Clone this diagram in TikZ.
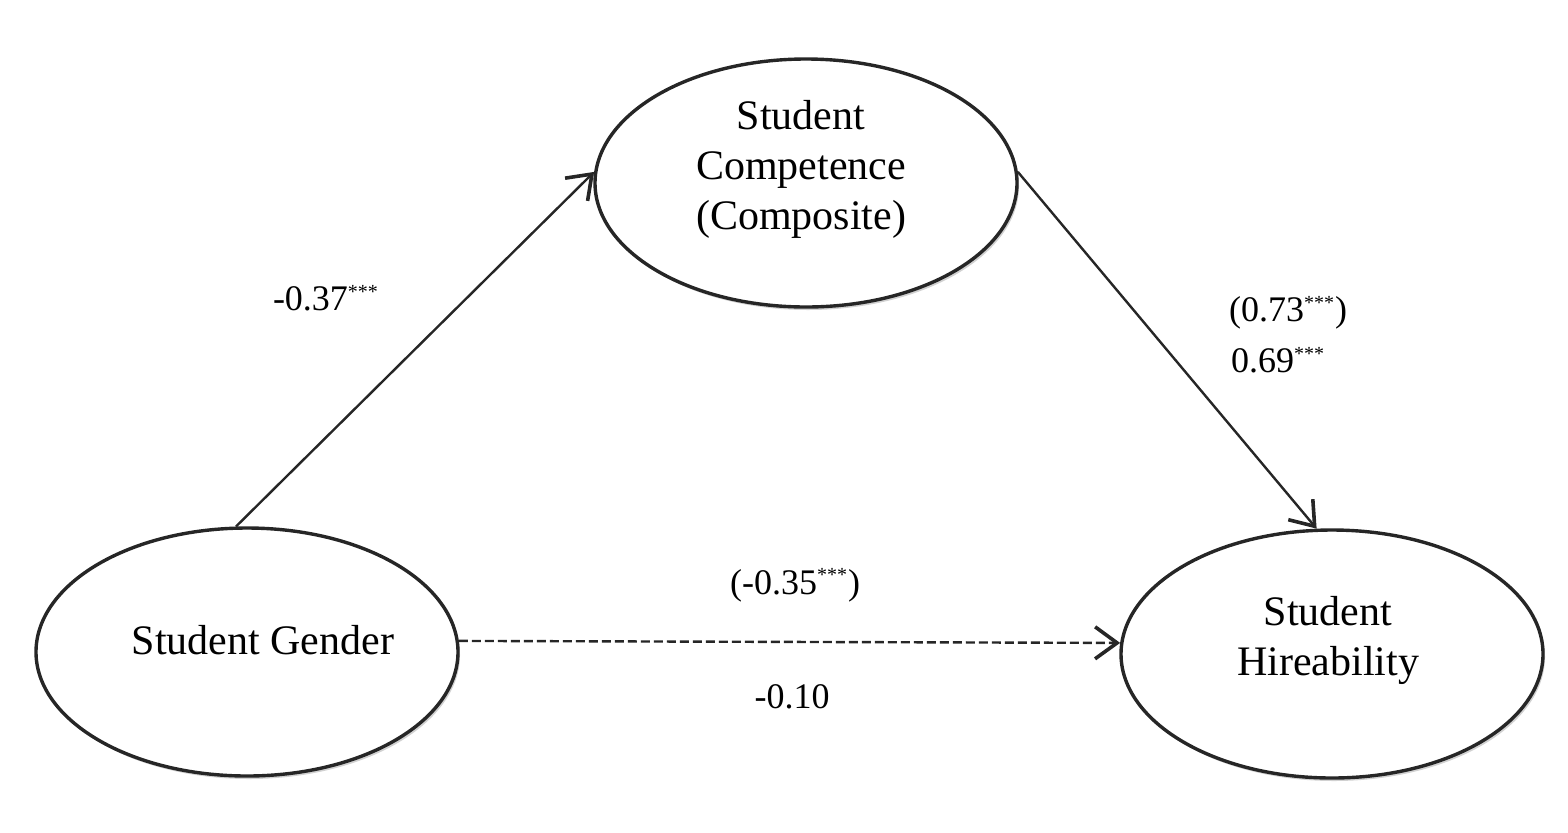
\documentclass[tikz,border=0pt]{standalone}
\usepackage{fontspec}
\setmainfont{Liberation Serif}
\usetikzlibrary{arrows.meta,shapes.geometric,shadows}
\tikzset{
  var/.style={ellipse, draw=black!85, line width=1.7pt, fill=white, inner sep=0pt,
    minimum width=211pt, minimum height=124pt,
    drop shadow={shadow xshift=1pt, shadow yshift=-1.5pt, opacity=0.18, fill=black}},
  vartext/.style={align=center, inner sep=0pt, font=\fontsize{21}{25}\selectfont},
  path/.style={draw=black!85, line width=1.2pt, -{Straight Barb[length=11pt,width=16pt,line width=1.8pt]}},
  coef/.style={font=\fontsize{18}{21}\selectfont, inner sep=0pt}
}
\newcommand{\stars}{\textsuperscript{\fontsize{10}{10}\selectfont***}}
\begin{document}
\begin{tikzpicture}[x=0.5pt,y=-0.5pt]
\useasboundingbox (0,0) rectangle (1568,832);
\node[var] (gen) at (247,652) {};
\node[var] (comp) at (806,183) {};
\node[var] (hire) at (1332,654) {};
\node[vartext] (gent) at (263,640) {Student Gender};
\node[vartext] (compt) at (801,169) {Student\\Competence\\(Composite)};
\node[vartext] (hiret) at (1328,640) {Student\\Hireability};
\draw[path] (gen.95) -- (comp.177);
\draw[path] (comp.3.5) -- (hire.97.7);
\draw[path, dashed, dash pattern=on 4.5pt off 2pt] (gen.3) -- (hire.177);
\node[coef] (a) at (326,298) {-0.37\stars};
\node[coef] (b1) at (1288,313) {(0.73\stars)};
\node[coef] (b2) at (1278,360) {0.69\stars};
\node[coef] (c1) at (795,585) {(-0.35\stars)};
\node[coef] (c2) at (792,697) {-0.10};
\end{tikzpicture}
\end{document}
